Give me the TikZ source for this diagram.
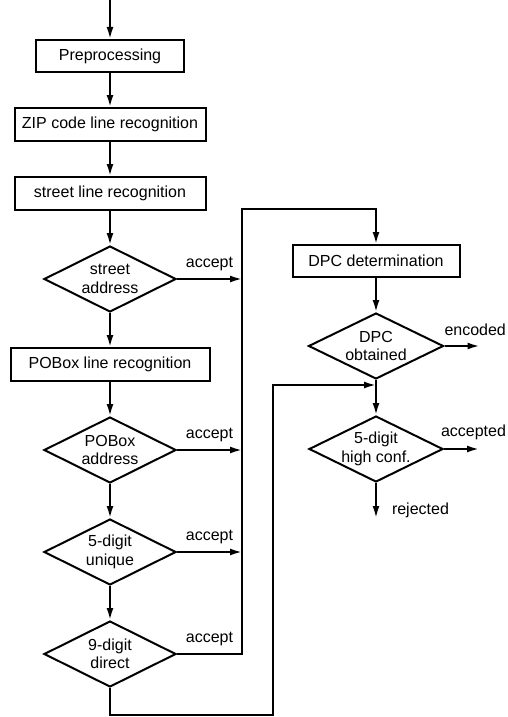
\documentclass[tikz,border=0pt]{standalone}
\usepackage{fontspec}
\setmainfont{Liberation Sans}
\usetikzlibrary{positioning,shapes.geometric,arrows.meta,calc}

\begin{document}
\begin{tikzpicture}[
        x=1pt, y=1pt,
        node distance=34pt,
        font=\fontsize{16}{18.5}\selectfont,
        line width=2pt,
        >={Latex[length=12pt,width=7pt]},
        stepbox/.style={rectangle, draw, minimum height=33pt, inner sep=0pt},
        test/.style={diamond, draw, align=center, minimum width=132pt, minimum height=66pt, inner sep=-12pt},
        outcome/.style={inner sep=0pt}
    ]
    \useasboundingbox (0,0) rectangle (507,-717);

    % Recognition column
    \coordinate (entry) at (110,0);
    \node (pre) at (110,-56) [stepbox, minimum width=148pt, minimum height=32pt] {Preprocessing};
    \node (zip) [below=of pre, stepbox, minimum width=191pt] {ZIP code line recognition};
    \node (street) [below=of zip, stepbox, minimum width=191pt] {street line recognition};
    \node (saddr) [below=of street, test] {street\\address};
    \node (pobox) [below=of saddr, stepbox, minimum width=199pt] {POBox line recognition};
    \node (paddr) [below=of pobox, test] {POBox\\address};
    \node (unique) [below=of paddr, test] {5-digit\\unique};
    \node (direct) [below=of unique, test] {9-digit\\direct};

    % DPC column
    \node (dpc) at (376,-261) [stepbox, minimum width=167pt, minimum height=32pt] {DPC determination};
    \node (dpcok) [below=of dpc, test, minimum width=135pt] {DPC\\obtained};
    \node (hiconf) [below=35pt of dpcok, test, minimum width=134pt] {5-digit\\high conf.};

    % Line corners
    \coordinate (trunk) at (242,-209);
    \coordinate (loopcorner) at (273,-715);
    \coordinate (join) at (376,-385);
    \coordinate [right=35pt of dpcok.east] (encout);
    \coordinate [right=35pt of hiconf.east] (accout);
    \coordinate [below=35pt of hiconf.south] (rejout);

    % Outcomes
    \node (enctext) [above right=9pt and -1pt of dpcok.east, outcome] {encoded};
    \node (acctext) [above right=8pt and -4pt of hiconf.east, outcome] {accepted};
    \node (rejtext) [right=15pt of rejout, yshift=8pt, outcome] {rejected};

    % Arrows
    \draw[->] (entry) -- (pre);
    \draw[->] (pre) -- (zip);
    \draw[->] (zip) -- (street);
    \draw[->] (street) -- (saddr);
    \draw[->] (saddr) -- (pobox);
    \draw[->] (pobox) -- (paddr);
    \draw[->] (paddr) -- (unique);
    \draw[->] (unique) -- (direct);
    \draw[->] (saddr.east) -- (saddr.east -| trunk) node[midway, above=4pt] {accept};
    \draw[->] (paddr.east) -- (paddr.east -| trunk) node[midway, above=4pt] {accept};
    \draw[->] (unique.east) -- (unique.east -| trunk) node[midway, above=4pt] {accept};
    \draw[->] (direct.east) -| node[pos=0.25, above=4pt] {accept} (trunk) -| (dpc.north);
    \draw[->] (direct.south) |- (loopcorner) |- (join);
    \draw[->] (dpc) -- (dpcok);
    \draw[->] (dpcok) -- (hiconf);
    \draw[->] (dpcok.east) -- (encout);
    \draw[->] (hiconf.east) -- (accout);
    \draw[->] (hiconf.south) -- (rejout);
\end{tikzpicture}
\end{document}
